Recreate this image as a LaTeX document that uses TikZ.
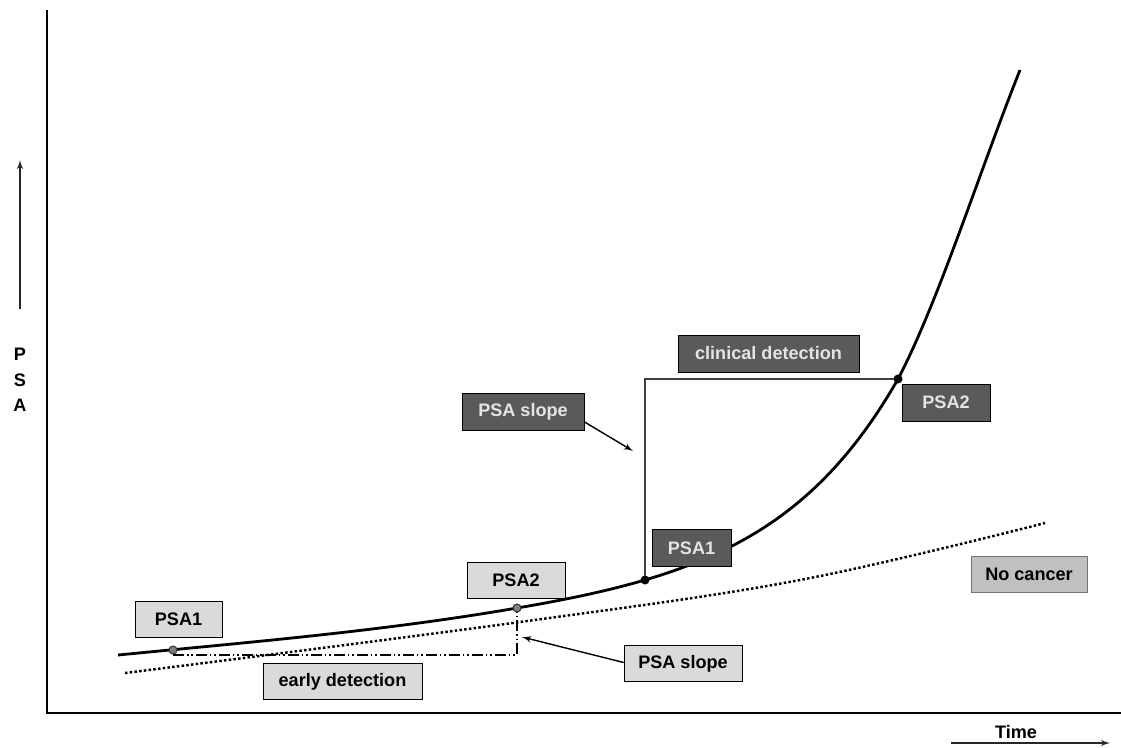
\documentclass[tikz,border=0pt]{standalone}
\usepackage{fontspec}
\setmainfont{Liberation Sans}
\usetikzlibrary{shapes,arrows}
\definecolor{lightfill}{HTML}{DADADA}
\definecolor{nofill}{HTML}{C0C0C0}
\definecolor{darkfill}{HTML}{5A5A5A}
\definecolor{darktext}{HTML}{E4E4E4}
\tikzstyle{lightblock} = [rectangle, draw, fill=lightfill, text=black,
    minimum height=0.72cm, inner sep=0pt, font=\bfseries\fontsize{10.3}{12}\selectfont]
\tikzstyle{darkblock} = [rectangle, draw, fill=darkfill, text=darktext,
    minimum height=0.74cm, inner sep=0pt, font=\bfseries\fontsize{10.3}{12}\selectfont]
\tikzstyle{line} = [draw, line width=0.8pt, -latex']
\tikzstyle{axis} = [draw, line width=1.6pt]
\tikzstyle{growth} = [draw, line width=1.6pt]
\tikzstyle{healthy} = [draw, line width=1.4pt, dash pattern=on 0.05cm off 0.045cm]
\tikzstyle{interval} = [draw, line width=0.8pt, dash pattern=on 0.22cm off 0.06cm on 0.03cm off 0.06cm on 0.03cm off 0.06cm]
\tikzstyle{bracket} = [draw, line width=0.7pt, black!75]
\tikzstyle{label} = [font=\bfseries\fontsize{10.3}{14.5}\selectfont, align=center, inner sep=0pt]

\begin{document}
\begin{tikzpicture}[x=0.02cm, y=-0.02cm]
\useasboundingbox (0,0) rectangle (1121,747);
    % axes
\draw[axis] (47,10) -- (47,713) -- (1121,713);
\coordinate (ylow) at (20,309);
\coordinate (yhigh) at (20,160);
\path [line, black!85] (ylow) -- (yhigh);
\node[label] (psa) at (20,380) {P\\S\\A};
\node[label] (time) at (1016,732) {Time};
\coordinate (tlow) at (951,743);
\coordinate (thigh) at (1110,743);
\path [line, black!85] (tlow) -- (thigh);

\coordinate (start) at (118,655);
\coordinate (e1) at (173,650);
\coordinate (e2) at (517,608);
\coordinate (c1) at (645,580);
\coordinate (c2) at (898,379);
\coordinate (stop) at (1020,70);
\coordinate (ebase) at (517,655);
\coordinate (ctop) at (645,379);

    % curves
\path[healthy] plot[smooth, tension=0.6] coordinates {(125,673) (520,622) (800,580) (1045,523)};
\path[growth] (start) .. controls (251,642) and (384,631) .. (e2)
    .. controls (697,577.4) and (808,536.5) .. (c2)
    .. controls (938,303) and (980,170) .. (stop);

    % intervals
\path[interval] (e1 |- ebase) -- (ebase) -- (e2);
\path[bracket] (c1) -- (ctop) -- (c2);

\filldraw[fill=gray, draw=black!80, line width=0.6pt] (e1) circle (4);
\filldraw[fill=gray, draw=black!80, line width=0.6pt] (e2) circle (4);
\fill (c1) circle (4.5);
\fill (c2) circle (4.5);

    % Place nodes
\node[lightblock, minimum width=1.74cm] (epsa1) at (178.5,619) {PSA1};
\node[lightblock, minimum width=1.96cm] (epsa2) at (516,580) {PSA2};
\node[lightblock, minimum width=3.18cm] (early) at (342.5,681.5) {early detection};
\node[lightblock, minimum width=2.36cm] (eslope) at (683,663.5) {PSA slope};
\node[lightblock, fill=nofill, draw=black!55, minimum width=2.32cm] (nocancer) at (1029,574.5) {No cancer};
\node[darkblock, minimum width=2.44cm] (cslope) at (523,412) {PSA slope};
\node[darkblock, minimum width=3.62cm] (clinical) at (768.5,353.5) {clinical detection};
\node[darkblock, minimum width=1.58cm] (cpsa1) at (691.5,548) {PSA1};
\node[darkblock, minimum width=1.76cm] (cpsa2) at (946,402.5) {PSA2};

    % Draw edges
\coordinate (ctip) at (633,451);
\coordinate (etip) at (522,637);
\path [line] (cslope.south east) ++(0,-9) -- (ctip);
\path [line] (eslope.west) ++(0,-1) -- (etip);

\end{tikzpicture}
\end{document}
